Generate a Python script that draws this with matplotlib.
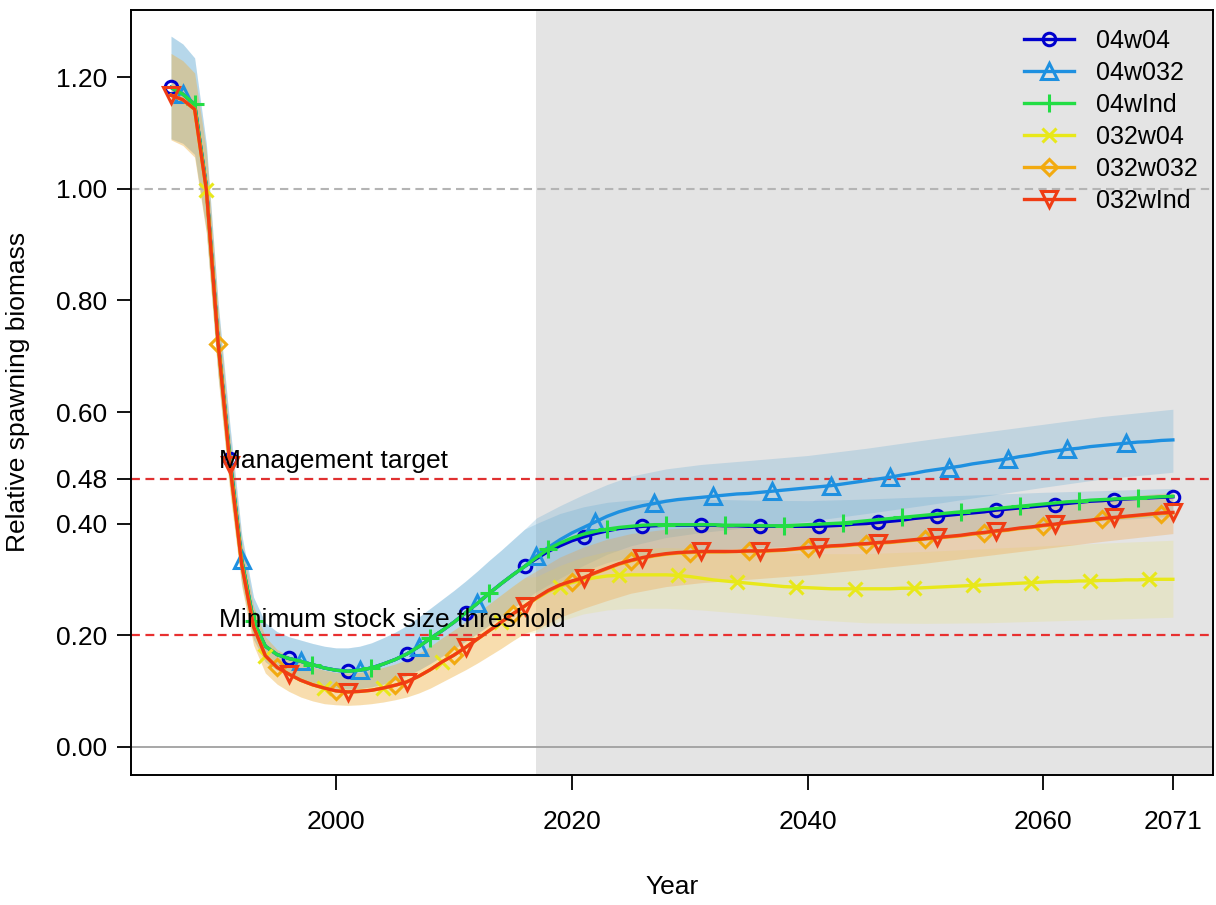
import numpy as np
import matplotlib.pyplot as plt

plt.rcParams['font.family'] = ['Liberation Sans', 'DejaVu Sans']

years = np.arange(1986, 2072)
hist_years = list(range(1986, 2017))
band_proj_years = [2017, 2019, 2021, 2023, 2025, 2028, 2031, 2035, 2040, 2045,
                   2050, 2055, 2060, 2065, 2071]

# historical part (1986-2016), shared by each group of runs
hist_04 = [1.182, 1.170, 1.152, 1.003, 0.726, 0.515, 0.334, 0.225, 0.180, 0.165,
           0.158, 0.153, 0.147, 0.141, 0.137, 0.135, 0.137, 0.141, 0.148, 0.156,
           0.166, 0.179, 0.194, 0.208, 0.223, 0.240, 0.257, 0.275, 0.292, 0.308,
           0.323]
hist_032 = [1.168, 1.160, 1.143, 0.998, 0.722, 0.505, 0.326, 0.215, 0.163, 0.142,
            0.130, 0.119, 0.111, 0.105, 0.100, 0.098, 0.099, 0.101, 0.105, 0.110,
            0.116, 0.126, 0.138, 0.152, 0.164, 0.178, 0.193, 0.208, 0.223, 0.238,
            0.252]

# projections 2017-2071
proj_04w04 = [0.337, 0.350, 0.360, 0.369, 0.376, 0.382, 0.387, 0.391, 0.393, 0.395,
              0.396, 0.397, 0.397, 0.397, 0.397, 0.397, 0.396, 0.396, 0.395, 0.395,
              0.395, 0.395, 0.395, 0.395, 0.395, 0.396, 0.397, 0.399, 0.400, 0.402,
              0.404, 0.406, 0.409, 0.411, 0.413, 0.415, 0.417, 0.419, 0.421, 0.424,
              0.426, 0.428, 0.430, 0.432, 0.434, 0.436, 0.438, 0.440, 0.441, 0.443,
              0.444, 0.445, 0.446, 0.447, 0.448]
proj_04w032 = [0.342, 0.357, 0.371, 0.383, 0.393, 0.403, 0.413, 0.421, 0.427, 0.432,
               0.436, 0.440, 0.443, 0.445, 0.447, 0.449, 0.451, 0.453, 0.454, 0.456,
               0.458, 0.460, 0.462, 0.464, 0.466, 0.468, 0.471, 0.474, 0.477, 0.480,
               0.483, 0.487, 0.490, 0.494, 0.497, 0.500, 0.503, 0.507, 0.510, 0.513,
               0.516, 0.520, 0.523, 0.527, 0.530, 0.533, 0.535, 0.538, 0.540, 0.542,
               0.544, 0.546, 0.547, 0.549, 0.550]
proj_04wInd = [0.339, 0.354, 0.365, 0.374, 0.381, 0.386, 0.390, 0.393, 0.395, 0.397,
               0.398, 0.398, 0.398, 0.398, 0.398, 0.398, 0.397, 0.397, 0.397, 0.396,
               0.396, 0.396, 0.397, 0.398, 0.399, 0.400, 0.401, 0.403, 0.405, 0.407,
               0.409, 0.411, 0.413, 0.415, 0.417, 0.419, 0.421, 0.423, 0.425, 0.427,
               0.429, 0.431, 0.433, 0.435, 0.437, 0.439, 0.440, 0.442, 0.443, 0.444,
               0.445, 0.446, 0.447, 0.448, 0.449]
proj_032w04 = [0.266, 0.278, 0.287, 0.294, 0.299, 0.303, 0.306, 0.307, 0.308, 0.308,
               0.308, 0.308, 0.307, 0.305, 0.302, 0.299, 0.297, 0.295, 0.293, 0.291,
               0.289, 0.287, 0.286, 0.285, 0.284, 0.283, 0.283, 0.283, 0.283, 0.283,
               0.283, 0.284, 0.284, 0.285, 0.286, 0.287, 0.288, 0.289, 0.290, 0.291,
               0.292, 0.293, 0.294, 0.295, 0.296, 0.296, 0.297, 0.297, 0.298, 0.298,
               0.299, 0.299, 0.300, 0.300, 0.300]
proj_032w032 = [0.266, 0.279, 0.289, 0.296, 0.302, 0.311, 0.319, 0.327, 0.333, 0.338,
                0.342, 0.345, 0.347, 0.348, 0.349, 0.349, 0.349, 0.350, 0.350, 0.350,
                0.351, 0.352, 0.354, 0.356, 0.357, 0.359, 0.360, 0.362, 0.363, 0.365,
                0.366, 0.368, 0.370, 0.372, 0.374, 0.376, 0.378, 0.381, 0.383, 0.386,
                0.388, 0.391, 0.393, 0.396, 0.398, 0.401, 0.403, 0.405, 0.408, 0.410,
                0.412, 0.414, 0.416, 0.418, 0.419]
proj_032wInd = [0.267, 0.280, 0.290, 0.297, 0.303, 0.312, 0.320, 0.328, 0.334, 0.339,
                0.343, 0.346, 0.348, 0.349, 0.350, 0.350, 0.350, 0.350, 0.351, 0.351,
                0.352, 0.353, 0.355, 0.357, 0.358, 0.360, 0.361, 0.363, 0.364, 0.366,
                0.367, 0.369, 0.371, 0.373, 0.375, 0.377, 0.379, 0.382, 0.384, 0.387,
                0.389, 0.392, 0.394, 0.397, 0.399, 0.402, 0.404, 0.406, 0.409, 0.411,
                0.413, 0.415, 0.417, 0.419, 0.420]

# uncertainty bands
band_hist_04_lo = [1.090, 1.082, 1.062, 0.925, 0.665, 0.465, 0.292, 0.192, 0.152, 0.137,
                   0.129, 0.122, 0.115, 0.109, 0.105, 0.103, 0.104, 0.107, 0.112, 0.119,
                   0.127, 0.137, 0.149, 0.162, 0.175, 0.189, 0.203, 0.218, 0.233, 0.248,
                   0.263]
band_hist_04_hi = [1.274, 1.260, 1.235, 1.080, 0.795, 0.575, 0.380, 0.268, 0.222, 0.206,
                   0.197, 0.191, 0.185, 0.180, 0.177, 0.177, 0.180, 0.186, 0.195, 0.205,
                   0.217, 0.232, 0.248, 0.264, 0.280, 0.297, 0.315, 0.334, 0.352, 0.371,
                   0.390]
band_hist_032_lo = [1.088, 1.078, 1.057, 0.920, 0.660, 0.455, 0.287, 0.182, 0.132, 0.112,
                    0.099, 0.089, 0.082, 0.077, 0.075, 0.074, 0.075, 0.077, 0.080, 0.084,
                    0.089, 0.096, 0.105, 0.116, 0.127, 0.138, 0.150, 0.163, 0.176, 0.190,
                    0.203]
band_hist_032_hi = [1.243, 1.230, 1.208, 1.068, 0.785, 0.555, 0.368, 0.252, 0.197, 0.174,
                    0.162, 0.152, 0.143, 0.137, 0.133, 0.132, 0.133, 0.137, 0.142, 0.148,
                    0.156, 0.167, 0.180, 0.195, 0.209, 0.224, 0.240, 0.256, 0.272, 0.288,
                    0.303]
band_04w04_lo = [0.272, 0.295, 0.315, 0.330, 0.340, 0.347, 0.352, 0.356, 0.360, 0.367,
                 0.376, 0.386, 0.396, 0.405, 0.413]
band_04w04_hi = [0.400, 0.418, 0.430, 0.438, 0.442, 0.444, 0.444, 0.442, 0.441, 0.444,
                 0.448, 0.452, 0.456, 0.459, 0.463]
band_04w032_lo = [0.278, 0.302, 0.325, 0.345, 0.360, 0.375, 0.384, 0.393, 0.404, 0.418,
                  0.433, 0.449, 0.465, 0.480, 0.492]
band_04w032_hi = [0.410, 0.432, 0.452, 0.470, 0.485, 0.498, 0.506, 0.513, 0.522, 0.535,
                  0.550, 0.564, 0.578, 0.592, 0.605]
band_032w04_lo = [0.205, 0.225, 0.238, 0.245, 0.248, 0.248, 0.245, 0.238, 0.228, 0.222,
                  0.221, 0.222, 0.225, 0.228, 0.232]
band_032w04_hi = [0.305, 0.325, 0.340, 0.350, 0.355, 0.357, 0.355, 0.350, 0.346, 0.346,
                  0.350, 0.355, 0.360, 0.365, 0.370]
band_032w032_lo = [0.210, 0.232, 0.248, 0.262, 0.275, 0.287, 0.294, 0.300, 0.308, 0.318,
                   0.329, 0.342, 0.355, 0.368, 0.382]
band_032w032_hi = [0.315, 0.340, 0.358, 0.372, 0.382, 0.390, 0.394, 0.396, 0.400, 0.406,
                   0.414, 0.424, 0.434, 0.445, 0.456]

labels = ['04w04', '04w032', '04wInd', '032w04', '032w032', '032wInd']
colors = ['#0000CD', '#1E90E0', '#22DD44', '#E8E81A', '#F2AA10', '#F03C14']
markers = ['o', '^', '+', 'x', 'D', 'v']
msizes = [9, 11, 13, 10, 8, 11]
offsets = [0, 1, 2, 3, 4, 0]
series = [hist_04 + proj_04w04, hist_04 + proj_04w032, hist_04 + proj_04wInd,
          hist_032 + proj_032w04, hist_032 + proj_032w032, hist_032 + proj_032wInd]

fig = plt.figure(figsize=(12.16, 9.05), dpi=100)
ax = fig.add_axes([0.1077, 0.1436, 0.8898, 0.8454])

ax.axvspan(2017, 2080, color='#E4E4E4', zorder=0, lw=0)

band_x = hist_years + band_proj_years
bands = [(band_hist_04_lo + band_04w04_lo, band_hist_04_hi + band_04w04_hi, '#5aa5d2', 0.25),
         (band_hist_04_lo + band_04w032_lo, band_hist_04_hi + band_04w032_hi, '#5aa5d2', 0.25),
         (band_hist_032_lo + band_032w04_lo, band_hist_032_hi + band_032w04_hi, '#e8e060', 0.20),
         (band_hist_032_lo + band_032w032_lo, band_hist_032_hi + band_032w032_hi, '#f59a30', 0.28)]
for lo, hi, c, a in bands:
    ax.fill_between(band_x, lo, hi, color=c, alpha=a, lw=0, zorder=1)

ax.axhline(0.0, color='#a0a0a0', lw=1.3, zorder=2)
ax.axhline(1.0, color='#b4b4b4', lw=1.5, ls=(0, (4, 2.5)), zorder=2)
ax.axhline(0.48, color='#e03030', lw=1.6, ls=(0, (4, 2.5)), zorder=2)
ax.axhline(0.20, color='#e83030', lw=1.6, ls=(0, (4, 2.5)), zorder=2)

for vals, lab, c, m, ms, off in zip(series, labels, colors, markers, msizes, offsets):
    ax.plot(years, vals, color=c, lw=2.4, marker=m, markersize=ms,
            markerfacecolor='none', markeredgewidth=2.2, markeredgecolor=c,
            markevery=slice(off, None, 5), label=lab, zorder=3)

ax.text(1990.1, 0.512, 'Management target', fontsize=19, va='center', ha='left', zorder=4)
ax.text(1990.1, 0.227, 'Minimum stock size threshold', fontsize=19, va='center',
        ha='left', zorder=4)

ax.set_xlim(1982.6, 2074.4)
ax.set_ylim(-0.051, 1.321)
ax.set_xticks([2000, 2020, 2040, 2060, 2071])
ax.set_xticklabels(['2000', '2020', '2040', '2060', '2071'])
yt = [0.0, 0.2, 0.4, 0.48, 0.6, 0.8, 1.0, 1.2]
ax.set_yticks(yt)
ax.set_yticklabels(['%.2f' % v for v in yt])
ax.tick_params(axis='x', length=11, width=1.3, pad=14, labelsize=19)
ax.tick_params(axis='y', length=10, width=1.3, pad=7, labelsize=19)
for s in ax.spines.values():
    s.set_linewidth(1.4)

fig.text(672 / 1216, 1 - 887 / 905, 'Year', fontsize=19, ha='center', va='center')
fig.text(18 / 1216, 1 - 392 / 905, 'Relative spawning biomass', fontsize=19,
         ha='center', va='center', rotation=90)

ax.legend(loc='upper left', bbox_to_anchor=(0.825, 0.975), frameon=False, fontsize=18,
          handlelength=2.0, handletextpad=0.9, labelspacing=0.32, borderpad=0,
          borderaxespad=0)

fig.savefig('out.png', dpi=100)
